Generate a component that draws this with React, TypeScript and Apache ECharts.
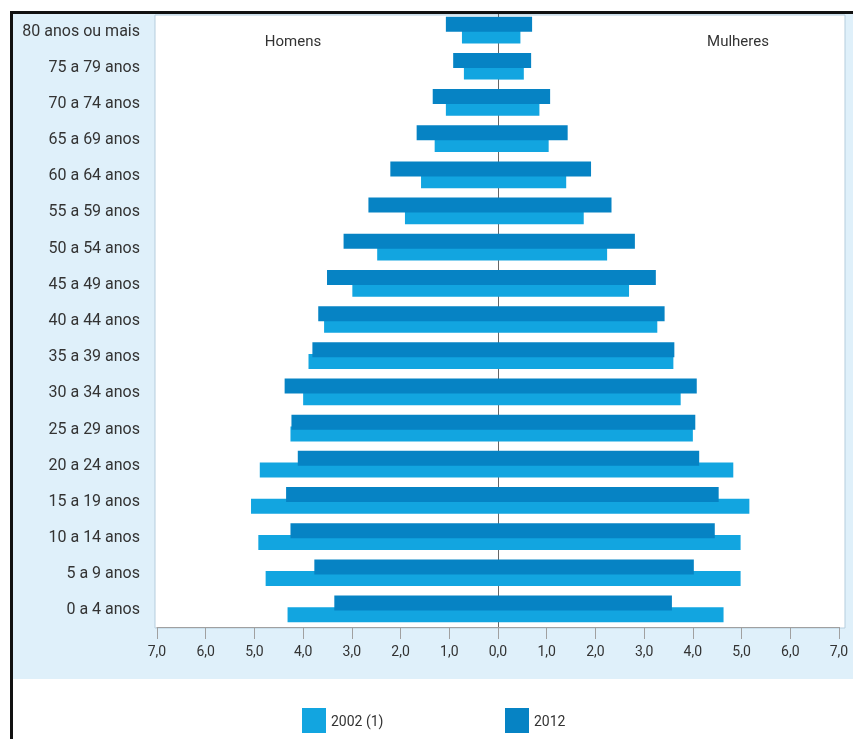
import React, { useEffect, useRef } from "react";
import * as echarts from "echarts";

const categories = [
  "0 a 4 anos", "5 a 9 anos", "10 a 14 anos", "15 a 19 anos", "20 a 24 anos",
  "25 a 29 anos", "30 a 34 anos", "35 a 39 anos", "40 a 44 anos", "45 a 49 anos",
  "50 a 54 anos", "55 a 59 anos", "60 a 64 anos", "65 a 69 anos", "70 a 74 anos",
  "75 a 79 anos", "80 anos ou mais",
];
const men2002 = [4.32, 4.77, 4.92, 5.07, 4.89, 4.26, 4.0, 3.89, 3.57, 2.99, 2.48, 1.91, 1.58, 1.3, 1.07, 0.7, 0.74];
const men2012 = [3.36, 3.77, 4.26, 4.35, 4.11, 4.24, 4.38, 3.81, 3.69, 3.51, 3.17, 2.66, 2.21, 1.67, 1.34, 0.92, 1.07];
const women2002 = [4.63, 4.98, 4.98, 5.16, 4.83, 4.0, 3.75, 3.6, 3.27, 2.69, 2.24, 1.76, 1.4, 1.04, 0.85, 0.53, 0.46];
const women2012 = [3.57, 4.02, 4.45, 4.53, 4.13, 4.05, 4.08, 3.62, 3.42, 3.24, 2.81, 2.33, 1.91, 1.43, 1.07, 0.68, 0.7];
const legendNames = ["2002 (1)", "2012"];
const sideLabels = ["Homens", "Mulheres"];

const C2002 = "#12a5e0";
const C2012 = "#0683c4";
const FONT = "Roboto, 'Noto Sans', sans-serif";

export default function App() {
  const ref = useRef<HTMLDivElement>(null);
  useEffect(() => {
    if (!ref.current) return;
    const chart = echarts.init(ref.current, undefined, { renderer: "svg" });
    const fmt = (v: number) => Math.abs(v).toFixed(1).replace(".", ",");
    const barCommon = {
      type: "bar" as const,
      barWidth: 15,
      barGap: "-22%",
    };
    chart.setOption({
      animation: false,
      textStyle: { fontFamily: FONT },
      graphic: [
        { type: "rect", z: -10, shape: { x: 13, y: 14, width: 840, height: 665 }, style: { fill: "#dff0fa" } },
        { type: "rect", z: -9, shape: { x: 155, y: 15, width: 690, height: 613 }, style: { fill: "#ffffff", stroke: "#b5cddd", lineWidth: 1 } },
        { type: "rect", z: 10, shape: { x: 10, y: 11, width: 3, height: 728 }, style: { fill: "#111" } },
        { type: "rect", z: 10, shape: { x: 10, y: 11, width: 843, height: 3 }, style: { fill: "#111" } },
        { type: "text", z: 10, x: 293, y: 41, style: { text: sideLabels[0], fill: "#333", font: `15px ${FONT}`, align: "center", verticalAlign: "middle" } },
        { type: "text", z: 10, x: 738, y: 41, style: { text: sideLabels[1], fill: "#333", font: `15px ${FONT}`, align: "center", verticalAlign: "middle" } },
      ],
      legend: [
        { data: [legendNames[0]], left: 302, top: 708, padding: 0, itemWidth: 24, itemHeight: 25, icon: "rect", textStyle: { fontSize: 14, color: "#333", fontFamily: FONT } },
        { data: [legendNames[1]], left: 505, top: 708, padding: 0, itemWidth: 24, itemHeight: 25, icon: "rect", textStyle: { fontSize: 14, color: "#333", fontFamily: FONT } },
      ],
      grid: { left: 157, right: 14, top: 12, bottom: 112, containLabel: false },
      xAxis: {
        type: "value",
        min: -7,
        max: 7,
        interval: 1,
        splitLine: { show: false },
        axisLine: { show: true, lineStyle: { color: "#a0a0a0" } },
        axisTick: { show: true, length: 12, lineStyle: { color: "#a0a0a0" } },
        axisLabel: { formatter: fmt, color: "#333", fontSize: 14, margin: 17, fontFamily: FONT },
      },
      yAxis: [
        {
          type: "category",
          data: categories,
          axisLine: { show: false, onZero: false },
          axisTick: { show: false },
          axisLabel: { color: "#333", fontSize: 16, margin: 17, fontFamily: FONT },
        },
        {
          type: "category",
          data: categories,
          axisLine: { show: true, onZero: true, lineStyle: { color: "#666", width: 1 } },
          axisTick: { show: false },
          axisLabel: { show: false },
        },
      ],
      series: [
        { ...barCommon, name: legendNames[1], stack: "s2012", z: 3, itemStyle: { color: C2012 }, data: men2012.map((v) => -v) },
        { ...barCommon, name: legendNames[1], stack: "s2012", z: 3, itemStyle: { color: C2012 }, data: women2012 },
        { ...barCommon, name: legendNames[0], stack: "s2002", z: 2, itemStyle: { color: C2002 }, data: men2002.map((v) => -v) },
        { ...barCommon, name: legendNames[0], stack: "s2002", z: 2, itemStyle: { color: C2002 }, data: women2002 },
      ],
    });
    return () => chart.dispose();
  }, []);
  return <div ref={ref} style={{ position: "fixed", left: 0, top: 0, width: 853, height: 739 }} />;
}
